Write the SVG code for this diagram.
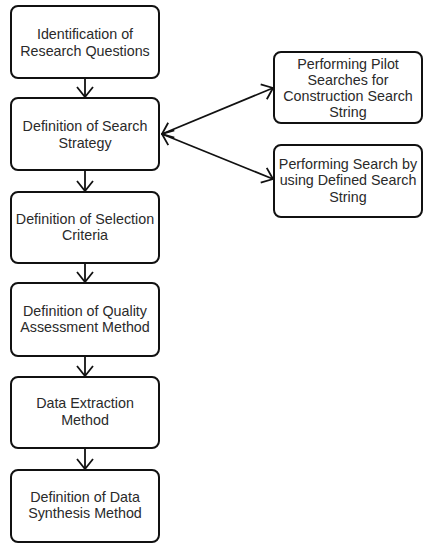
<svg xmlns="http://www.w3.org/2000/svg" width="428" height="550" viewBox="0 0 428 550">
<defs>
<style>
.box{fill:#fff;stroke:#111;stroke-width:2}
.t{font-family:"Liberation Sans",Arial,sans-serif;font-size:14.3px;fill:#2a2a2a;text-anchor:middle}
.c{fill:none;stroke:#111;stroke-width:1.8}
</style>
<marker id="ah" viewBox="0 0 12 18" refX="11" refY="9" markerWidth="12" markerHeight="18" markerUnits="userSpaceOnUse" orient="auto-start-reverse">
<path d="M1,1 L11,9 L1,17" fill="none" stroke="#111" stroke-width="1.8"/>
</marker>
</defs>
<rect width="428" height="550" fill="#fff"/>
<g id="connectors">
<line class="c" x1="85" y1="78" x2="85" y2="97" marker-end="url(#ah)"/>
<line class="c" x1="85" y1="170" x2="85" y2="191" marker-end="url(#ah)"/>
<line class="c" x1="85" y1="263" x2="85" y2="282" marker-end="url(#ah)"/>
<line class="c" x1="85" y1="356" x2="85" y2="376" marker-end="url(#ah)"/>
<line class="c" x1="85" y1="448" x2="85" y2="469" marker-end="url(#ah)"/>
<line class="c" x1="162" y1="134" x2="273" y2="88" marker-start="url(#ah)" marker-end="url(#ah)"/>
<line class="c" x1="162" y1="134" x2="273" y2="179" marker-start="url(#ah)" marker-end="url(#ah)"/>
</g>
<g id="n1"><rect class="box" x="11" y="6" width="148" height="72" rx="7"/>
<text class="t" x="85" y="39">Identification of</text><text class="t" x="85" y="56">Research Questions</text></g>
<g id="n2"><rect class="box" x="11" y="98" width="148" height="72" rx="7"/>
<text class="t" x="85" y="131">Definition of Search</text><text class="t" x="85" y="148">Strategy</text></g>
<g id="n3"><rect class="box" x="11" y="192" width="148" height="71" rx="7"/>
<text class="t" x="85" y="224">Definition of Selection</text><text class="t" x="85" y="240">Criteria</text></g>
<g id="n4"><rect class="box" x="11" y="283" width="148" height="73" rx="7"/>
<text class="t" x="85" y="316">Definition of Quality</text><text class="t" x="85" y="332">Assessment Method</text></g>
<g id="n5"><rect class="box" x="11" y="377" width="148" height="71" rx="7"/>
<text class="t" x="85" y="408">Data Extraction</text><text class="t" x="85" y="425">Method</text></g>
<g id="n6"><rect class="box" x="11" y="470" width="148" height="72" rx="7"/>
<text class="t" x="85" y="502">Definition of Data</text><text class="t" x="85" y="518">Synthesis Method</text></g>
<g id="n7"><rect class="box" x="274" y="52" width="148" height="71" rx="7"/>
<text class="t" x="348" y="69">Performing Pilot</text><text class="t" x="348" y="85">Searches for</text><text class="t" x="348" y="101">Construction Search</text><text class="t" x="348" y="117">String</text></g>
<g id="n8"><rect class="box" x="274" y="145" width="148" height="72" rx="7"/>
<text class="t" x="348" y="169">Performing Search by</text><text class="t" x="348" y="185">using Defined Search</text><text class="t" x="348" y="202">String</text></g>
</svg>
